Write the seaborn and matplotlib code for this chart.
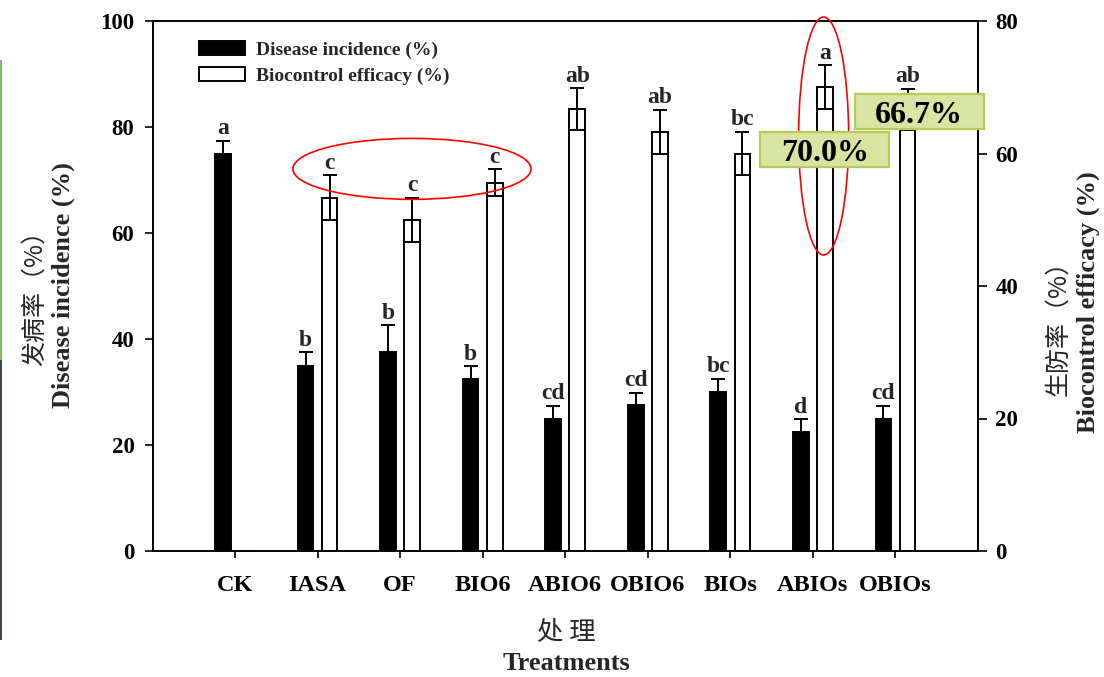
import numpy as np
import pandas as pd
import matplotlib
matplotlib.use("Agg")
import matplotlib.pyplot as plt
import seaborn as sns
from matplotlib.patches import Ellipse, Rectangle, Patch
from matplotlib.container import BarContainer

# ---- data -------------------------------------------------------------
treatments = ["CK", "IASA", "OF", "BIO6", "ABIO6", "OBIO6", "BIOs", "ABIOs", "OBIOs"]
incidence = [75.0, 35.0, 37.5, 32.5, 25.0, 27.5, 30.0, 22.5, 25.0]
incidence_sd = [2.4, 2.5, 5.1, 2.4, 2.4, 2.4, 2.5, 2.4, 2.4]
incidence_letters = ["a", "b", "b", "b", "cd", "cd", "bc", "d", "cd"]
efficacy = [0.0, 53.3, 50.0, 55.6, 66.7, 63.3, 60.0, 70.0, 66.7]
efficacy_sd = [0.0, 3.4, 3.3, 2.0, 3.2, 3.3, 3.3, 3.3, 3.1]
efficacy_letters = ["", "c", "c", "c", "ab", "ab", "bc", "a", "ab"]

series = ["Disease incidence (%)", "Biocontrol efficacy (%)"]
left_ticks = [0, 20, 40, 60, 80, 100]
right_ticks = [0, 20, 40, 60, 80]

df = pd.DataFrame({
    "Treatment": treatments * 2,
    "Series": [series[0]] * len(treatments) + [series[1]] * len(treatments),
    "Value": incidence + efficacy,
})

# ---- style ------------------------------------------------------------
sns.set_theme(style="ticks")
plt.rcParams["font.family"] = ["Liberation Serif", "Noto Sans CJK SC"]
plt.rcParams["font.weight"] = "bold"
plt.rcParams["axes.linewidth"] = 1.2

CJK = ["Noto Sans CJK SC", "DejaVu Sans"]
palette = {series[0]: "black", series[1]: "white"}

fig = plt.figure(figsize=(11.04, 6.77), dpi=100)
fig.patch.set_facecolor("white")
ax = fig.add_axes([152.5 / 1104, 1 - 551 / 677, (978 - 152.5) / 1104, (551 - 21) / 677])
ax2 = ax.twinx()

# each series sits on its own y scale, but both keep the shared dodge slots
bar_kw = dict(x="Treatment", y="Value", hue="Series", hue_order=series,
              order=treatments, palette=palette, width=0.584, gap=0.35,
              dodge=True, errorbar=None, edgecolor="black", linewidth=1.4,
              saturation=1, legend=False)

sns.barplot(data=df[df["Series"] == series[0]], ax=ax, **bar_kw)
sns.barplot(data=df[df["Series"] == series[1]], ax=ax2, **bar_kw)


def bar_centers(axis, n):
    """Per-category bar centres, taken from the dodge offset seaborn applied."""
    centers = [p.get_x() + p.get_width() / 2
               for c in axis.containers if isinstance(c, BarContainer) for p in c]
    offset = float(np.median([c - round(c) for c in centers]))
    return [i + offset for i in range(n)]


err_kw = dict(fmt="none", ecolor="black", elinewidth=1.4, capsize=5.2,
              capthick=1.4, zorder=4)
x_inc = bar_centers(ax, len(treatments))
x_eff = bar_centers(ax2, len(treatments))
ax.errorbar(x_inc, incidence, yerr=incidence_sd, **err_kw)
ax2.errorbar(x_eff, efficacy, yerr=efficacy_sd, **err_kw)

for x, v, s, t in zip(x_inc, incidence, incidence_sd, incidence_letters):
    ax.annotate(t, (x, v + s), xytext=(0, 1), textcoords="offset points",
                ha="center", va="bottom", fontsize=17, fontweight="bold")
for x, v, s, t in zip(x_eff, efficacy, efficacy_sd, efficacy_letters):
    if t:
        ax2.annotate(t, (x, v + s), xytext=(0, 1), textcoords="offset points",
                     ha="center", va="bottom", fontsize=17, fontweight="bold")

# ---- axes -------------------------------------------------------------
ax.set_xlim(-1, 9)
ax.set_ylim(0, 100)
ax2.set_ylim(0, 80)
ax.set_yticks(left_ticks)
ax2.set_yticks(right_ticks)
ax.set_xticks(range(len(treatments)))
ax.set_xticklabels(treatments)
ax.set_xlabel("")
ax.set_ylabel("")
ax2.set_ylabel("")

for a in (ax, ax2):
    for sp in a.spines.values():
        sp.set_visible(True)
        sp.set_linewidth(1.2)
        sp.set_color("black")

ax.tick_params(axis="y", direction="out", length=6, width=1.2,
               labelsize=16.5, pad=7, colors="black")
ax.tick_params(axis="x", direction="out", length=5, width=1.2,
               labelsize=17.5, pad=12, colors="black")
ax2.tick_params(axis="y", direction="out", length=6.5, width=1.2,
                labelsize=16.5, pad=6, colors="black")
for lab in ax.get_xticklabels() + ax.get_yticklabels() + ax2.get_yticklabels():
    lab.set_fontweight("bold")

# ---- legend -----------------------------------------------------------
handles = [Patch(facecolor="black", edgecolor="black", linewidth=1.4),
           Patch(facecolor="white", edgecolor="black", linewidth=1.4)]
leg = ax2.legend(handles, series, loc="upper left", bbox_to_anchor=(0.056, 0.962),
                 frameon=False, fontsize=14, handlelength=2.4, handleheight=0.75,
                 handletextpad=0.55, labelspacing=0.4, borderpad=0, borderaxespad=0)
for t in leg.get_texts():
    t.set_fontweight("bold")

# ---- highlight marks --------------------------------------------------
ax2.add_patch(Ellipse((2.143, 72.1), 2.885, 11.5, transform=ax.transData,
                      fill=False, edgecolor="red", linewidth=1.2,
                      clip_on=False, zorder=6))
ax2.add_patch(Ellipse((7.13, 78.3), 0.606, 44.9, transform=ax.transData,
                      fill=False, edgecolor="red", linewidth=1.2,
                      clip_on=False, zorder=6))

callouts = [(7, (6.364, 57.9), 1.559, 5.37), (8, (7.507, 63.66), 1.564, 5.28)]
for idx, (x0, y0), w, h in callouts:
    ax2.add_patch(Rectangle((x0, y0), w, h, facecolor="#d7e4a2",
                            edgecolor="#b7ca55", linewidth=1.6,
                            clip_on=False, zorder=8))
    ax2.text(x0 + w / 2, y0 + h / 2, f"{efficacy[idx]:.1f}%", ha="center",
             va="center_baseline", fontsize=23, fontweight="bold",
             color="black", zorder=9, clip_on=False)

# ---- axis titles ------------------------------------------------------
def ftext(px, py, s, **kw):
    fig.text(px / 1104, 1 - py / 677, s, ha="center", va="center", **kw)


ftext(35, 292, "发病率（%）", rotation=90, fontsize=18, family=CJK, fontweight="normal")
ftext(63, 285, "Disease incidence (%)", rotation=90, fontsize=19, fontweight="bold")
ftext(1058, 322, "生防率（%）", rotation=90, fontsize=18, family=CJK, fontweight="normal")
ftext(1088, 302, "Biocontrol efficacy (%)", rotation=90, fontsize=19, fontweight="bold")
ftext(566, 632, "处 理", fontsize=19, family=CJK, fontweight="normal")
ftext(566, 664, "Treatments", fontsize=19, fontweight="bold")

# thin coloured strip along the left border
fig.patches.append(Rectangle((0, 1 - 360 / 677), 2 / 1104, 300 / 677,
                             transform=fig.transFigure, facecolor="#86b86a",
                             edgecolor="none"))
fig.patches.append(Rectangle((0, 1 - 640 / 677), 2 / 1104, 280 / 677,
                             transform=fig.transFigure, facecolor="#3f4d46",
                             edgecolor="none"))

fig.savefig("out.png", dpi=100, facecolor="white")
